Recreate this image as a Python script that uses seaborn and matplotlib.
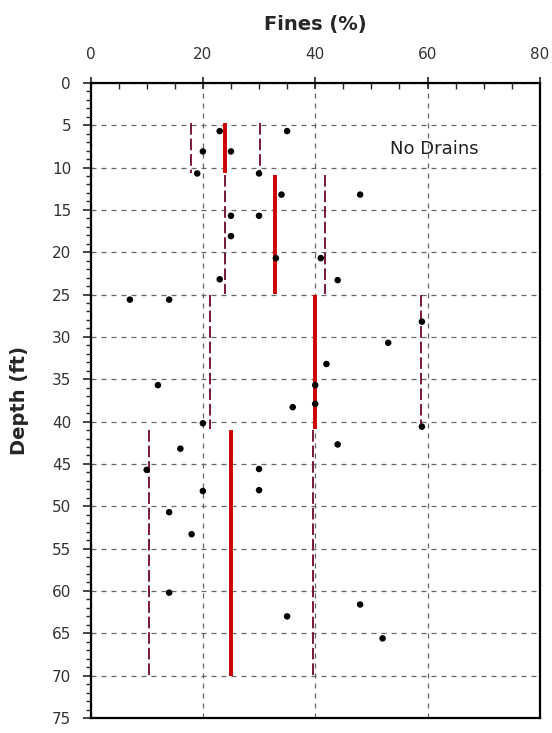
import numpy as np
import pandas as pd
import matplotlib
matplotlib.use("Agg")
import matplotlib.pyplot as plt
import seaborn as sns

# measured fines content (%) vs depth (ft)
fines = [23, 35, 20, 25, 19, 30, 34, 48, 25, 30, 25, 33, 41, 23, 44, 7, 14,
         59, 53, 42, 12, 40, 36, 40, 20, 59, 44, 16, 10, 30, 20, 30, 14, 18,
         14, 48, 35, 52]
depth = [5.7, 5.7, 8.1, 8.1, 10.7, 10.7, 13.2, 13.2, 15.7, 15.7, 18.1, 20.7,
         20.7, 23.2, 23.3, 25.6, 25.6, 28.2, 30.7, 33.2, 35.7, 35.7, 38.3, 37.9,
         40.2, 40.6, 42.7, 43.2, 45.7, 45.6, 48.2, 48.1, 50.7, 53.3, 60.2, 61.6,
         63.0, 65.6]

# layer statistics (mean and standard deviation)
layer_top = [4.8, 10.9, 25.0, 41.0]
layer_bot = [10.6, 24.9, 40.9, 70.0]
layer_mean = [24.0, 32.8, 40.0, 25.0]
layer_std = [6.2, 8.9, 18.8, 14.6]

df = pd.DataFrame({"fines": fines, "depth": depth})
mean = np.array(layer_mean)
std = np.array(layer_std)

sns.set_style("white")
plt.rcParams['font.family'] = ['DejaVu Sans']

fig = plt.figure(figsize=(5.52, 7.33), dpi=100)
ax = fig.add_axes([0.164, 0.0205, 0.814, 0.8665])

# +/- one std dashed lines
ax.vlines(mean - std, layer_top, layer_bot, colors='#7a1838', linestyles=(0, (6, 2)),
          linewidth=1.4, zorder=3)
ax.vlines(mean + std, layer_top, layer_bot, colors='#7a1838', linestyles=(0, (6, 2)),
          linewidth=1.4, zorder=3)
# mean lines
ax.vlines(mean, layer_top, layer_bot, colors='#cc0000', linewidth=2.8, zorder=4)

sns.scatterplot(data=df, x="fines", y="depth", color='black', s=22,
                edgecolor='none', ax=ax, zorder=5)

ax.set_xlim(0, 80)
ax.set_ylim(75, 0)
ax.xaxis.tick_top()
ax.xaxis.set_label_position('top')
ax.set_xticks([0, 20, 40, 60, 80])
ax.set_xticks(np.arange(0, 81, 5), minor=True)
ax.set_yticks(np.arange(0, 76, 5))
ax.set_yticks(np.arange(0, 76, 1), minor=True)

ax.tick_params(axis='x', which='major', direction='inout', length=8, width=1.2,
               labelsize=11, pad=11, labelcolor='#333333', top=True, bottom=False)
ax.tick_params(axis='x', which='minor', direction='in', length=4, width=1.0,
               top=True, bottom=False)
ax.tick_params(axis='y', which='major', direction='out', length=6, width=1.2,
               labelsize=11, pad=8, labelcolor='#333333', left=True)
ax.tick_params(axis='y', which='minor', direction='out', length=3.5, width=1.0,
               left=True)

ax.grid(True, which='major', linestyle=(0, (4, 4)), color='#666666', linewidth=0.9)
for s in ax.spines.values():
    s.set_visible(True)
    s.set_color('black')
    s.set_linewidth(1.6)

ax.set_xlabel('Fines (%)', fontsize=14, fontweight='bold', labelpad=12)
ax.set_ylabel('Depth (ft)', fontsize=14, fontweight='bold', labelpad=16)

ax.text(53.3, 7.8, 'No Drains', fontsize=13, va='center', ha='left', color='#222222')

fig.savefig('out.png', dpi=100)
